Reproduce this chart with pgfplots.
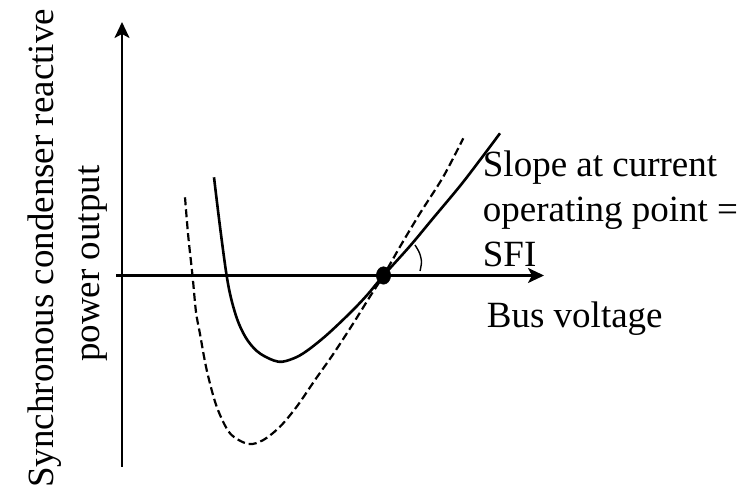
\documentclass[border=0pt]{standalone}
\usepackage{fontspec}
\setmainfont{Liberation Serif}
\usepackage{pgfplots}
\pgfplotsset{compat=1.18}
\usetikzlibrary{arrows.meta}

\newcommand{\lbl}{\fontsize{37bp}{44bp}\selectfont}

\begin{document}
\begin{tikzpicture}
\begin{axis}[
  x=1bp, y=1bp,
  xmin=0, xmax=752, ymin=0, ymax=492,
  hide axis, clip=false,
]
% axes with arrow heads
\addplot[black, line width=2.5bp, -{Stealth[length=16bp,width=15bp,inset=4bp]}]
  coordinates {(122,25) (122,470)};
\addplot[black, line width=2.5bp, -{Stealth[length=16bp,width=15bp,inset=4bp]}]
  coordinates {(116,216.5) (544,216.5)};

% reactive power curve (solid)
\addplot[black, line width=2.6bp, smooth, tension=0.55] coordinates {
  (214,314.7) (220,265.3) (226.7,216) (232,190) (239,168) (248,151)
  (260,138.5) (278.3,130.3) (293.3,133.5) (306.7,141) (326.7,157)
  (350,179) (366.7,196.5) (383.5,216.5) (410,246) (433.3,274)
  (460,306) (480,332) (500,358.7)
};

% reactive power curve (dashed)
\addplot[black, line width=2.2bp, smooth, tension=0.5, dash pattern=on 8bp off 4bp] coordinates {
  (185,294.7) (188.3,255.3) (192.5,216.5) (196,180) (200,158) (206.7,122)
  (216.7,85.3) (230,58.7) (248.3,48) (263.3,52) (280,65.3) (296.7,85.3)
  (315,112) (333.3,138) (353.3,168.7) (370,195.5) (383.5,216.5)
  (400,245.3) (420,278.7) (443.3,315.3) (463.3,353.7)
};

% operating point
\addplot[only marks, mark=*, mark size=8bp, mark options={fill=black, draw=black, xscale=0.9, yscale=1.1}]
  coordinates {(383.5,216.5)};

% slope angle arc
\addplot[black, line width=1.4bp, smooth] coordinates {
  (420,221) (421.5,230) (419.5,239) (415,247)
};

% labels
\node[anchor=base west, inner sep=0pt] at (axis cs:482.7,315.3) {\lbl Slope at current};
\node[anchor=base west, inner sep=0pt] at (axis cs:482.7,270.3) {\lbl operating point =};
\node[anchor=base west, inner sep=0pt] at (axis cs:482.7,225.3) {\lbl SFI};
\node[anchor=base west, inner sep=0pt] at (axis cs:486.7,164.5) {\lbl Bus voltage};
\node[anchor=base west, inner sep=0pt, rotate=90] at (axis cs:53,4) {\lbl Synchronous condenser reactive};
\node[anchor=base west, inner sep=0pt, rotate=90] at (axis cs:99,130) {\lbl power output};
\end{axis}
\pgfresetboundingbox
\path (current axis.south west) rectangle (current axis.north east);
\end{tikzpicture}
\end{document}
